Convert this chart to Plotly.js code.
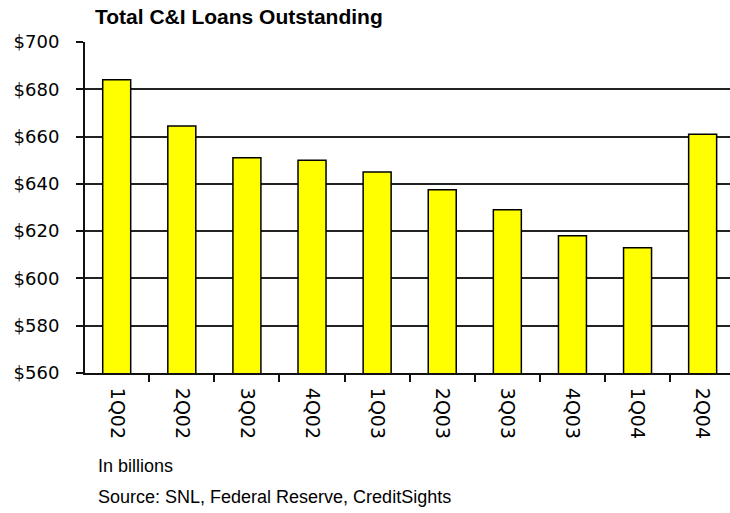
<!DOCTYPE html>
<html>
<head>
<meta charset="utf-8">
<script src="https://cdn.plot.ly/plotly-3.0.1.min.js"></script>
<style>html,body{margin:0;padding:0;background:#fff;}#chart{width:730px;height:513px;}</style>
</head>
<body>
<div id="chart"></div>
<script>
const quarters = ["1Q02","2Q02","3Q02","4Q02","1Q03","2Q03","3Q03","4Q03","1Q04","2Q04"];
const loans = [684, 664.5, 651, 650, 645, 637.5, 629, 618, 613, 661];
const titleText = "Total C&I Loans Outstanding";
const unitNote = "In billions";
const sourceNote = "Source: SNL, Federal Reserve, CreditSights";

const font = "Liberation Sans, Arial, sans-serif";
const tickFontFamily = "DejaVu Sans, Liberation Sans, sans-serif";

const trace = {
  type: "bar",
  x: quarters,
  y: loans,
  width: 0.43,
  marker: {color: "#FFFF00", line: {color: "#000", width: 1.5}},
  hoverinfo: "x+y"
};

const layout = {
  width: 730, height: 513,
  margin: {l: 85, r: 0, t: 42, b: 140},
  paper_bgcolor: "#fff", plot_bgcolor: "#fff",
  showlegend: false,
  font: {family: font, color: "#000", size: 18},
  title: {
    text: titleText,
    font: {family: font, size: 21, weight: "bold", color: "#000"},
    xref: "container", x: 95/730, xanchor: "left",
    yref: "container", y: 1 - 17/513, yanchor: "middle"
  },
  xaxis: {
    type: "category",
    range: [-0.487, 9.42],
    showline: true, linecolor: "#111", linewidth: 2,
    ticks: "outside", tickson: "boundaries", ticklen: 7, tickwidth: 2, tickcolor: "#111",
    tickangle: 90,
    tickfont: {family: tickFontFamily, size: 19, color: "#000"},
    ticklabelstandoff: 9,
    showgrid: false, zeroline: false, fixedrange: true
  },
  yaxis: {
    range: [560, 700],
    dtick: 20, tick0: 560,
    tickprefix: "$",
    showline: true, linecolor: "#111", linewidth: 2,
    ticks: "outside", ticklen: 7, tickwidth: 2, tickcolor: "#111",
    tickfont: {family: tickFontFamily, size: 18, color: "#000"},
    ticklabelstandoff: 13,
    showgrid: true, gridcolor: "#222", gridwidth: 2,
    zeroline: false, fixedrange: true
  },
  annotations: [
    {text: unitNote, xref: "paper", yref: "paper", x: (96-85)/645, y: (373-466)/331,
     xanchor: "left", yanchor: "middle", showarrow: false, font: {family: font, size: 18, color: "#000"}},
    {text: sourceNote, xref: "paper", yref: "paper", x: (96-85)/645, y: (373-497)/331,
     xanchor: "left", yanchor: "middle", showarrow: false, font: {family: font, size: 18, color: "#000"}}
  ]
};

Plotly.newPlot("chart", [trace], layout, {displayModeBar: false, staticPlot: true});
</script>
</body>
</html>
